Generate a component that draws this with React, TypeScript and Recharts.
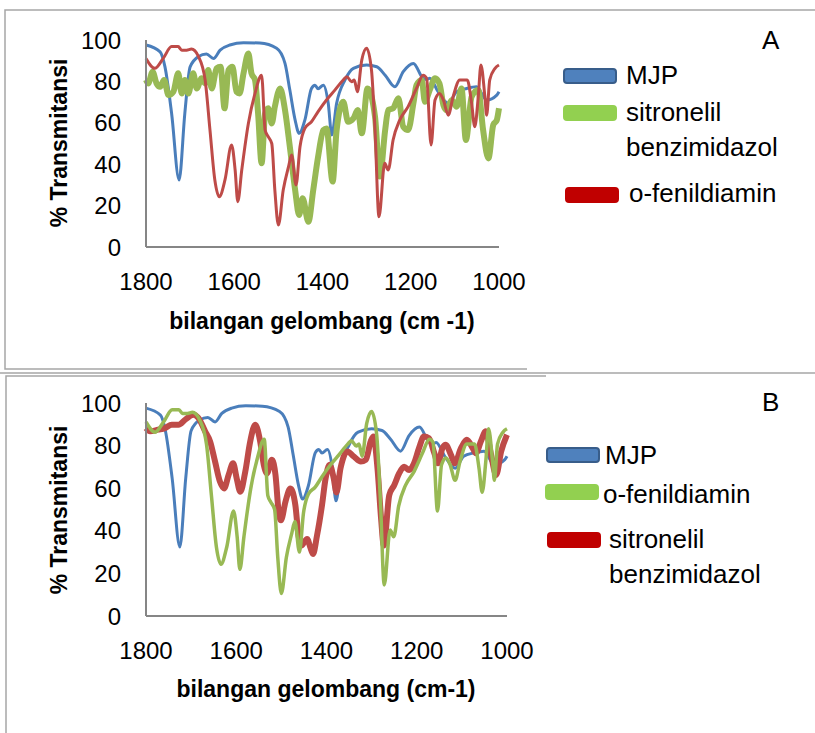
import React from "react";
import { LineChart, Line, XAxis, YAxis } from "recharts";

const ticksX = [1800, 1600, 1400, 1200, 1000];
const ticksY = [0, 20, 40, 60, 80, 100];

// MJP (same curve in A and B)
const mjpWave = [1800, 1768, 1757, 1742, 1725, 1712, 1700, 1681, 1663, 1647, 1632, 1610, 1579, 1542, 1504, 1485, 1474, 1462, 1453, 1440, 1425, 1417, 1410, 1398, 1387, 1379, 1368, 1349, 1330, 1300, 1277, 1258, 1236, 1217, 1194, 1172, 1163, 1157, 1138, 1115, 1096, 1073, 1051, 1028, 1005, 1000];
const mjpT = [97.6, 94.3, 87, 64.6, 32.4, 64.6, 87, 92, 93.2, 91.1, 95.1, 97.6, 98.7, 98.5, 96, 88.7, 75.8, 61.3, 54.9, 61.3, 76.6, 78.2, 76.5, 78.2, 69.4, 54.1, 69.4, 80.7, 86.3, 87.9, 87.1, 83, 77.4, 84.7, 88.7, 81.5, 81, 81.5, 75, 69.4, 75, 76.6, 77.4, 71, 73.4, 75];

// o-fenildiamin (same curve in A and B)
const ofenWave = [1800, 1780, 1761, 1742, 1727, 1719, 1708, 1697, 1681, 1666, 1655, 1644, 1634, 1621, 1606, 1598, 1592, 1583, 1568, 1553, 1538, 1530, 1523, 1515, 1508, 1500, 1489, 1477, 1470, 1460, 1451, 1440, 1425, 1410, 1391, 1372, 1353, 1345, 1334, 1328, 1321, 1311, 1300, 1289, 1281, 1272, 1259, 1251, 1240, 1225, 1206, 1187, 1172, 1164, 1154, 1145, 1135, 1126, 1115, 1104, 1089, 1072, 1062, 1055, 1047, 1041, 1032, 1028, 1021, 1009, 1000];
const ofenT = [91.1, 86.3, 91.1, 96.8, 96.8, 95.1, 95.1, 95.6, 92, 80.7, 56.5, 32.4, 24.3, 32.4, 49.3, 37.2, 21.9, 37.2, 59.7, 74.2, 83, 56.5, 53.3, 50, 27.5, 10.6, 27.5, 38.8, 44.4, 30, 48.4, 57.3, 60.5, 65.4, 71, 75.8, 80.7, 82.3, 79.8, 80.7, 75, 90.3, 96, 85.5, 56.5, 14.6, 40.4, 37.2, 51.7, 61.3, 67.8, 76.6, 83, 81.5, 49.3, 71, 74.2, 71, 63.7, 72.6, 80.7, 80.7, 69.4, 58.1, 72.6, 87.9, 72.6, 63.7, 80.7, 86.3, 87.9];

// sitronelil benzimidazol, panel A
const sbAWave = [1800, 1795, 1785, 1776, 1768, 1759, 1749, 1738, 1727, 1719, 1712, 1704, 1693, 1685, 1674, 1666, 1659, 1651, 1640, 1631, 1622, 1613, 1604, 1595, 1588, 1579, 1568, 1561, 1553, 1546, 1538, 1530, 1523, 1515, 1508, 1496, 1485, 1474, 1462, 1453, 1445, 1432, 1421, 1410, 1398, 1391, 1377, 1368, 1353, 1342, 1330, 1320, 1311, 1298, 1281, 1270, 1258, 1251, 1240, 1228, 1217, 1206, 1194, 1187, 1175, 1168, 1157, 1145, 1135, 1126, 1119, 1107, 1096, 1085, 1075, 1062, 1047, 1036, 1024, 1013, 1005, 1000];
const sbAT = [80.7, 79, 84.7, 79, 77.4, 80.7, 73.4, 75, 83.9, 74.2, 80.7, 74.2, 83.9, 76.6, 81.5, 79, 85.5, 76.6, 86.3, 87.1, 67, 85.5, 87.1, 75, 74.2, 83.9, 93.5, 83.9, 80.7, 64.6, 40.4, 64.6, 67, 59.7, 67.8, 76.6, 66.2, 48.4, 27.5, 15.5, 23.5, 12.2, 27.5, 43.6, 56.5, 57.3, 31.6, 56.5, 70.2, 60.5, 62.1, 66.2, 54.9, 76.6, 63, 34, 56.5, 66.2, 67, 71.8, 58.1, 56.5, 69.4, 78.2, 80.7, 70.2, 75.8, 81.5, 79, 68.6, 66.2, 71, 67.8, 76.6, 51.7, 72.6, 75.8, 56.5, 42.8, 59, 61.3, 67];

// sitronelil benzimidazol, panel B
const sbBWave = [1800, 1791, 1773, 1758, 1743, 1728, 1713, 1695, 1684, 1669, 1658, 1647, 1636, 1627, 1617, 1607, 1599, 1591, 1580, 1569, 1558, 1547, 1539, 1532, 1521, 1513, 1506, 1501, 1491, 1480, 1469, 1462, 1456, 1443, 1436, 1430, 1421, 1410, 1402, 1393, 1384, 1378, 1369, 1354, 1339, 1324, 1313, 1302, 1296, 1287, 1279, 1273, 1261, 1250, 1239, 1228, 1217, 1206, 1195, 1184, 1173, 1161, 1153, 1143, 1136, 1124, 1116, 1102, 1089, 1076, 1069, 1058, 1047, 1036, 1024, 1013, 1000];
const sbBT = [88.2, 86.7, 87.5, 88.2, 89.8, 89.8, 92.2, 94.5, 93, 86.7, 82, 72.5, 63, 59.9, 66.2, 71.7, 64.6, 58.3, 67.8, 82, 89.8, 82, 71, 67, 73.3, 66.2, 48.8, 44.9, 53.6, 59.9, 52, 37.8, 33, 36.2, 32.3, 29.1, 37.8, 52, 64.6, 71, 64.6, 58, 69.3, 77.2, 74.8, 72.5, 73.3, 82, 84.3, 69.3, 45.7, 33.1, 56.7, 61.4, 67, 70.1, 68.5, 71.7, 78.8, 84.3, 83.5, 76.4, 71.7, 78.8, 80.4, 75.6, 71.7, 78.8, 82.7, 78.8, 76.4, 81.9, 86.7, 76.4, 66.2, 77.2, 85.1];

const rows = (w: number[], t: number[]) => w.map((x, i) => ({ w: x, t: t[i] }));

const BLUE = "#4A7EBB";
const RED = "#BE4B48";
const GREEN = "#98B954";
const AXIS = "#868686";
const FONT = "'Liberation Sans', Arial, sans-serif";

type Series = { name: string; data: { w: number; t: number }[]; color: string; width: number };

function Panel({ top, height, margin, series }: { top: number; height: number; margin: any; series: Series[] }) {
  return (
    <div style={{ position: "absolute", left: 0, top }}>
      <LineChart width={815} height={height} margin={margin}>
        <XAxis
          type="number"
          dataKey="w"
          domain={[1000, 1800]}
          reversed
          ticks={ticksX}
          interval={0}
          height={60}
          tickLine={false}
          tickSize={0}
          tickMargin={26}
          axisLine={{ stroke: AXIS, strokeWidth: 2 }}
          tick={{ fill: "#000", fontSize: 24, fontFamily: FONT }}
        />
        <YAxis
          type="number"
          domain={[0, 100]}
          ticks={ticksY}
          interval={0}
          width={146}
          tickLine={false}
          tickSize={0}
          tickMargin={25}
          axisLine={{ stroke: AXIS, strokeWidth: 2 }}
          tick={{ fill: "#000", fontSize: 24, fontFamily: FONT }}
        />
        {series.map((s) => (
          <Line
            key={s.name}
            data={s.data}
            dataKey="t"
            type="monotone"
            stroke={s.color}
            strokeWidth={s.width}
            dot={false}
            isAnimationActive={false}
          />
        ))}
      </LineChart>
    </div>
  );
}

function Swatch({ x, y, fill, stroke }: { x: number; y: number; fill: string; stroke?: string }) {
  return <rect x={x} y={y} width={52} height={14} rx={3} fill={fill} stroke={stroke || fill} strokeWidth={2} />;
}

export default function App() {
  const mjp = rows(mjpWave, mjpT);
  const ofen = rows(ofenWave, ofenT);
  const sbA = rows(sbAWave, sbAT);
  const sbB = rows(sbBWave, sbBT);
  const txt = { fontFamily: FONT, fontSize: 26, fill: "#000" } as const;
  const title = { fontFamily: FONT, fontSize: 23, fontWeight: 700, fill: "#000" } as const;

  return (
    <div style={{ position: "absolute", left: 0, top: 0, width: 815, height: 733, background: "#fff", overflow: "hidden" }}>
      <Panel
        top={0}
        height={370}
        margin={{ top: 40, right: 316, bottom: 63, left: 0 }}
        series={[
          { name: "MJP", data: mjp, color: BLUE, width: 3 },
          { name: "sitronelil benzimidazol", data: sbA, color: GREEN, width: 6 },
          { name: "o-fenildiamin", data: ofen, color: RED, width: 3 },
        ]}
      />
      <Panel
        top={373}
        height={360}
        margin={{ top: 30, right: 308, bottom: 57, left: 0 }}
        series={[
          { name: "MJP", data: mjp, color: BLUE, width: 3 },
          { name: "sitronelil benzimidazol", data: sbB, color: RED, width: 6 },
          { name: "o-fenildiamin", data: ofen, color: GREEN, width: 3.5 },
        ]}
      />
      <svg width={815} height={733} style={{ position: "absolute", left: 0, top: 0, pointerEvents: "none" }}>
        {/* frames */}
        <polyline points="815,10 5,10 5,369 527,369" fill="none" stroke="#a6a6a6" strokeWidth={1.5} />
        <line x1={0} y1={373} x2={815} y2={373} stroke="#a6a6a6" strokeWidth={1.5} />
        <polyline points="546,376 6,376 6,733" fill="none" stroke="#a6a6a6" strokeWidth={1.5} />

        {/* panel A texts */}
        <text x={762} y={49} {...txt}>A</text>
        <Swatch x={564} y={69} fill="#4F81BD" stroke="#385D8A" />
        <text x={626} y={84} {...txt}>MJP</text>
        <Swatch x={564} y={106} fill="#92D050" />
        <text x={626} y={121} {...txt}>sitronelil</text>
        <text x={626} y={156} {...txt}>benzimidazol</text>
        <Swatch x={566} y={188} fill="#C00000" />
        <text x={629} y={202} {...txt}>o-fenildiamin</text>
        <text x={67} y={143} textAnchor="middle" transform="rotate(-90 67 143)" {...title}>% Transmitansi</text>
        <text x={322} y={329} textAnchor="middle" {...title}>bilangan gelombang (cm -1)</text>

        {/* panel B texts */}
        <text x={762} y={411} {...txt}>B</text>
        <Swatch x={547} y={448} fill="#4F81BD" stroke="#385D8A" />
        <text x={605} y={464} {...txt}>MJP</text>
        <Swatch x={546} y={485} fill="#92D050" />
        <text x={603} y={503} {...txt}>o-fenildiamin</text>
        <Swatch x={548} y={533} fill="#C00000" />
        <text x={609} y={548} {...txt}>sitronelil</text>
        <text x={609} y={583} {...txt}>benzimidazol</text>
        <text x={67} y={510} textAnchor="middle" transform="rotate(-90 67 510)" {...title}>% Transmitansi</text>
        <text x={326} y={697} textAnchor="middle" {...title}>bilangan gelombang (cm-1)</text>
      </svg>
    </div>
  );
}
